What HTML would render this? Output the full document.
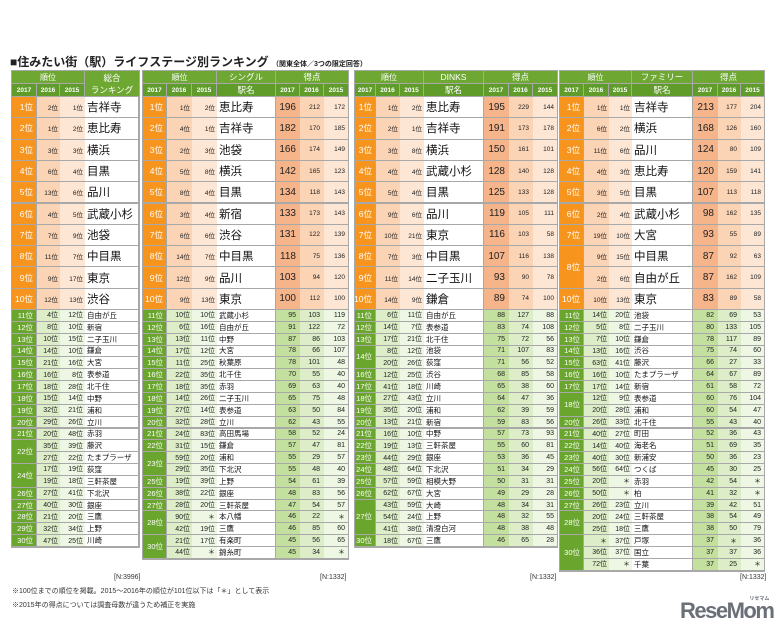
<!DOCTYPE html>
<html><head><meta charset="utf-8">
<style>
body{margin:0;width:777px;height:633px;background:#fff;position:relative;overflow:hidden;font-family:"Liberation Sans","Noto Sans CJK JP",sans-serif;}
.c{position:absolute;box-sizing:border-box;display:flex;align-items:center;white-space:nowrap;overflow:hidden;}
.t{position:absolute;white-space:nowrap;}
</style></head><body>
<div class="t" style="left:10px;top:53px;font-size:12px;font-weight:bold;color:#222;">■住みたい街（駅）ライフステージ別ランキング <span style="font-size:7px;">（関東全体／3つの限定回答）</span></div>
<div id="root"></div>
<div class="t" style="left:114px;top:574px;font-size:7px;color:#333;">[N:3996]</div>
<div class="t" style="left:320px;top:574px;font-size:7px;color:#333;">[N:1332]</div>
<div class="t" style="left:530px;top:574px;font-size:7px;color:#333;">[N:1332]</div>
<div class="t" style="left:740px;top:574px;font-size:7px;color:#333;">[N:1332]</div>
<div class="t" style="left:12px;top:586px;font-size:7px;color:#333;">※100位までの順位を掲載。2015～2016年の順位が101位以下は「＊」として表示</div>
<div class="t" style="left:12px;top:600px;font-size:7px;color:#333;">※2015年の得点については調査母数が違うため補正を実施</div>
<div class="t" style="left:680px;top:598px;font-size:22px;font-weight:bold;color:#6b7078;letter-spacing:-1.5px;">ReseMom<span style="font-size:5px;position:absolute;right:4px;top:-3px;letter-spacing:0;">リセマム</span></div>
<script>
// overall: [rank2017, span, r2016, r2015, name]
const overallRows=[
["1位",1,"2位","1位","吉祥寺"],["2位",1,"1位","2位","恵比寿"],["3位",1,"3位","3位","横浜"],["4位",1,"6位","4位","目黒"],["5位",1,"13位","6位","品川"],["6位",1,"4位","5位","武蔵小杉"],["7位",1,"7位","9位","池袋"],["8位",1,"11位","7位","中目黒"],["9位",1,"9位","17位","東京"],["10位",1,"12位","13位","渋谷"],
["11位",1,"4位","12位","自由が丘"],["12位",1,"8位","10位","新宿"],["13位",1,"10位","15位","二子玉川"],["14位",1,"14位","10位","鎌倉"],["15位",1,"21位","16位","大宮"],["16位",1,"16位","8位","表参道"],["17位",1,"18位","28位","北千住"],["18位",1,"15位","14位","中野"],["19位",1,"32位","21位","浦和"],["20位",1,"29位","26位","立川"],["21位",1,"20位","48位","赤羽"],["22位",2,"35位","39位","藤沢"],["",0,"27位","22位","たまプラーザ"],["24位",2,"17位","19位","荻窪"],["",0,"19位","18位","三軒茶屋"],["26位",1,"27位","41位","下北沢"],["27位",1,"40位","30位","銀座"],["28位",1,"21位","20位","三鷹"],["29位",1,"32位","34位","上野"],["30位",1,"47位","25位","川崎"]];
// [rank2017, span, r2016, r2015, name, s2017, s2016, s2015]
const singleRows=[
["1位",1,"1位","2位","恵比寿","196","212","172"],["2位",1,"4位","1位","吉祥寺","182","170","185"],["3位",1,"2位","3位","池袋","166","174","149"],["4位",1,"5位","8位","横浜","142","165","123"],["5位",1,"8位","4位","目黒","134","118","143"],["6位",1,"3位","4位","新宿","133","173","143"],["7位",1,"6位","6位","渋谷","131","122","139"],["8位",1,"14位","7位","中目黒","118","75","136"],["9位",1,"12位","9位","品川","103","94","120"],["10位",1,"9位","13位","東京","100","112","100"],
["11位",1,"10位","10位","武蔵小杉","95","103","119"],["12位",1,"6位","16位","自由が丘","91","122","72"],["13位",1,"13位","11位","中野","87","86","103"],["14位",1,"17位","12位","大宮","78","66","107"],["15位",1,"11位","25位","秋葉原","78","101","48"],["16位",1,"22位","35位","北千住","70","55","40"],["17位",1,"18位","35位","赤羽","69","63","40"],["18位",1,"14位","26位","二子玉川","65","75","48"],["19位",1,"27位","14位","表参道","63","50","84"],["20位",1,"32位","28位","立川","62","43","55"],["21位",1,"24位","83位","高田馬場","58","52","24"],["22位",1,"31位","15位","鎌倉","57","47","81"],["23位",2,"59位","20位","浦和","55","29","57"],["",0,"29位","35位","下北沢","55","48","40"],["25位",1,"19位","39位","上野","54","61","39"],["26位",1,"38位","22位","銀座","48","83","56"],["27位",1,"28位","20位","三軒茶屋","47","54","57"],["28位",2,"90位","＊","本八幡","46","22","＊"],["",0,"42位","19位","三鷹","46","85","60"],["30位",2,"21位","17位","有楽町","45","56","65"],["",0,"44位","＊","錦糸町","45","34","＊"]];
const dinksRows=[
["1位",1,"1位","2位","恵比寿","195","229","144"],["2位",1,"2位","1位","吉祥寺","191","173","178"],["3位",1,"3位","8位","横浜","150","161","101"],["4位",1,"4位","4位","武蔵小杉","128","140","128"],["5位",1,"5位","4位","目黒","125","133","128"],["6位",1,"9位","6位","品川","119","105","111"],["7位",1,"10位","21位","東京","116","103","58"],["8位",1,"7位","3位","中目黒","107","116","138"],["9位",1,"11位","14位","二子玉川","93","90","78"],["10位",1,"14位","9位","鎌倉","89","74","100"],
["11位",1,"6位","11位","自由が丘","88","127","88"],["12位",1,"14位","7位","表参道","83","74","108"],["13位",1,"17位","21位","北千住","75","72","56"],["14位",2,"8位","12位","池袋","71","107","83"],["",0,"20位","26位","荻窪","71","56","52"],["16位",1,"12位","25位","渋谷","68","85","58"],["17位",1,"41位","18位","川崎","65","38","60"],["18位",1,"27位","43位","立川","64","47","36"],["19位",1,"35位","20位","浦和","62","39","59"],["20位",1,"13位","21位","新宿","59","83","56"],["21位",1,"16位","10位","中野","57","73","93"],["22位",1,"19位","13位","三軒茶屋","55","60","81"],["23位",1,"44位","29位","銀座","53","36","45"],["24位",1,"48位","64位","下北沢","51","34","29"],["25位",1,"57位","59位","相模大野","50","31","31"],["26位",1,"62位","67位","大宮","49","29","28"],["27位",3,"43位","59位","大崎","48","34","31"],["",0,"54位","24位","上野","48","32","55"],["",0,"41位","38位","清澄白河","48","38","48"],["30位",1,"18位","67位","三鷹","46","65","28"]];
const familyRows=[
["1位",1,"1位","1位","吉祥寺","213","177","204"],["2位",1,"6位","2位","横浜","168","126","160"],["3位",1,"11位","6位","品川","124","80","109"],["4位",1,"4位","3位","恵比寿","120","159","141"],["5位",1,"3位","5位","目黒","107","113","118"],["6位",1,"2位","4位","武蔵小杉","98","162","135"],["7位",1,"19位","10位","大宮","93","55","89"],["8位",2,"9位","15位","中目黒","87","92","63"],["",0,"2位","6位","自由が丘","87","162","109"],["10位",1,"10位","13位","東京","83","89","58"],
["11位",1,"14位","20位","池袋","82","69","53"],["12位",1,"5位","8位","二子玉川","80","133","105"],["13位",1,"7位","10位","鎌倉","78","117","89"],["14位",1,"13位","16位","渋谷","75","74","60"],["15位",1,"63位","41位","藤沢","66","27","33"],["16位",1,"16位","10位","たまプラーザ","64","67","89"],["17位",1,"17位","14位","新宿","61","58","72"],["18位",2,"12位","9位","表参道","60","76","104"],["",0,"20位","28位","浦和","60","54","47"],["20位",1,"26位","33位","北千住","55","43","40"],["21位",1,"40位","27位","町田","52","36","43"],["22位",1,"14位","40位","海老名","51","69","35"],["23位",1,"40位","30位","新浦安","50","36","23"],["24位",1,"56位","64位","つくば","45","30","25"],["25位",1,"20位","＊","赤羽","42","54","＊"],["26位",1,"50位","＊","柏","41","32","＊"],["27位",1,"26位","23位","立川","39","42","51"],["28位",2,"20位","24位","三軒茶屋","38","54","49"],["",0,"25位","18位","三鷹","38","50","79"],["30位",3,"＊","37位","戸塚","37","＊","36"],["",0,"36位","37位","国立","37","37","36"],["",0,"72位","＊","千葉","37","25","＊"]];
const yearLabels=["2017","2016","2015"];

const root=document.getElementById('root');
const HDR=71, H1=13, H2=13, TOPH=21.3, BOTH=11.85;
function cell(x,y,w,h,txt,bg,color,fs,align,bold,name,extra){
  const d=document.createElement('div');d.className='c';
  d.style.cssText=`left:${x}px;top:${y}px;width:${w}px;height:${h}px;background:${bg};color:${color};font-size:${fs}px;justify-content:${align};font-weight:${bold?'bold':'normal'};${extra||''}`;
  d.textContent=txt;
  
  
  root.appendChild(d);return d;
}
function rowY(i){return i<10?HDR+H1+H2+i*TOPH:HDR+H1+H2+10*TOPH+(i-10)*BOTH;}
function build(key,rows,cols,stationLabel){
  const x=cols, G='#6ea833', G2='#5f9c2a';
  const right=x[x.length-1];
  const n=rows.length, bottom=rowY(n);
  cell(x[0]-1,HDR-1,right-x[0]+2,bottom-HDR+2,'','#a8a8a8','#000',1,'center',0,key+'-panel');
  cell(x[0],HDR,x[3]-x[0]-1,H1-1,'順位',G,'#fff',8,'center',0,key+'-rank-header');
  for(let k=0;k<3;k++) cell(x[k],HDR+H1,x[k+1]-x[k]-1,H2-1,yearLabels[k],G2,'#fff',6.5,'center',1,key+'-rank-year-'+yearLabels[k]);
  if(!stationLabel){
    cell(x[3],HDR,x[4]-x[3],H1+H2-1,'総合\nランキング',G,'#fff',8.5,'center',0,key+'-name-header','white-space:pre;text-align:center;line-height:12px;');
  } else {
    cell(x[3],HDR,x[4]-x[3]-1,H1-1,stationLabel,G,'#fff',8.5,'center',0,key+'-segment-header');
    cell(x[3],HDR+H1,x[4]-x[3]-1,H2-1,'駅名',G2,'#fff',8.5,'center',0,key+'-name-header');
    cell(x[4],HDR,x[7]-x[4],H1-1,'得点',G,'#fff',8.5,'center',0,key+'-score-header');
    for(let k=0;k<3;k++) cell(x[4+k],HDR+H1,x[5+k]-x[4+k]-(k<2?1:0),H2-1,yearLabels[k],G2,'#fff',6.5,'center',1,key+'-score-year-'+yearLabels[k]);
  }
  rows.forEach((r,i)=>{
    const top=i<10, y=rowY(i), h=(top?TOPH:BOTH)-1;
    const cR=top?'#f7941d':'#6aa52d', c1=top?'#fbd3b5':'#dcedc8', c2=top?'#fde6d4':'#eef6e4';
    const s0=top?'#f6b48a':'#c4e09e';
    if(r[1]>0){
      let hh=0;for(let k=0;k<r[1];k++)hh+=(i+k<10?TOPH:BOTH);
      cell(x[0],y,x[1]-x[0]-1,hh-1,r[0],cR,'#fff',top?8.5:7.5,'flex-end',0,key+'-rank-2017-'+(i+1),'padding-right:3px;');
    }
    cell(x[1],y,x[2]-x[1],h,r[2],c1,'#222',top?6.5:7,'flex-end',0,key+'-rank-2016-'+(i+1),'padding-right:2px;');
    cell(x[2],y,x[3]-x[2],h,r[3],c2,'#222',top?6.5:7,'flex-end',0,key+'-rank-2015-'+(i+1),'padding-right:2px;');
    cell(x[3],y,x[4]-x[3]-1,h,r[4],'#fff','#111',top?11.5:7.5,'flex-start',0,key+'-station-'+(i+1),'padding-left:2px;');
    if(stationLabel){
      cell(x[4],y,x[5]-x[4],h,r[5],s0,'#222',top?10:7,'flex-end',0,key+'-score-2017-'+(i+1),'padding-right:4px;');
      cell(x[5],y,x[6]-x[5],h,r[6],c1,'#222',top?6.5:7,'flex-end',0,key+'-score-2016-'+(i+1),'padding-right:4px;');
      cell(x[6],y,x[7]-x[6],h,r[7],c2,'#222',top?6.5:7,'flex-end',0,key+'-score-2015-'+(i+1),'padding-right:3px;');
    }
  });
}
build('overall',overallRows,[12,37,60,85,139],null);
build('single',singleRows,[143,167,192,217,276,300,324,348],'シングル');
build('dinks',dinksRows,[355,376,400,424,484,509,533,557],'DINKS');
build('family',familyRows,[560,584,609,632,693,718,741,764],'ファミリー');
</script>
</body></html>
